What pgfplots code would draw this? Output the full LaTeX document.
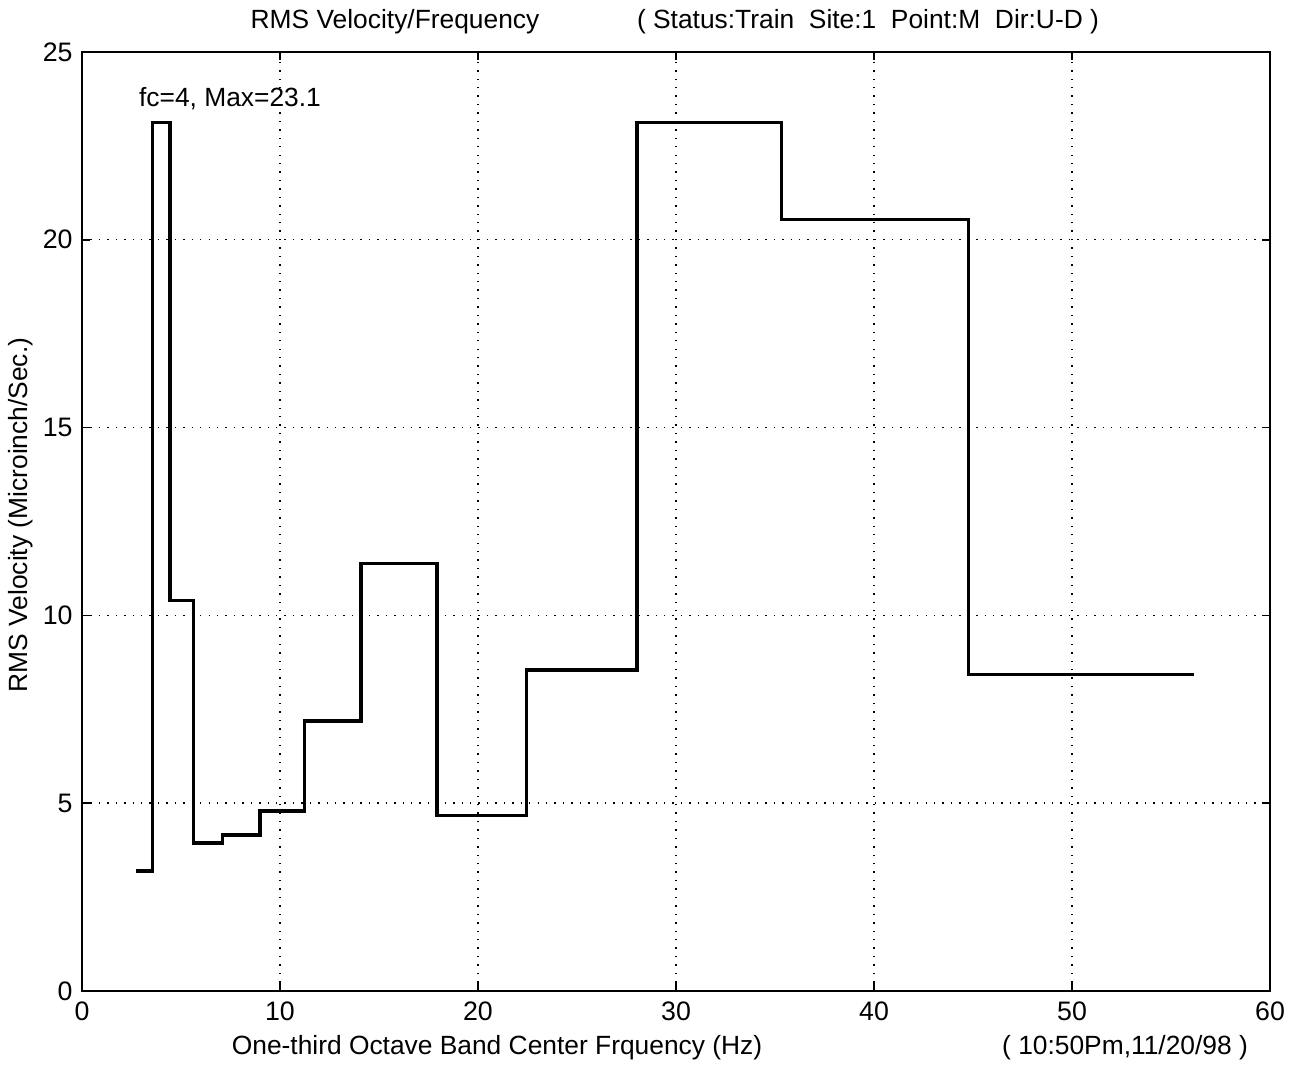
\documentclass[border=0pt]{standalone}
\usepackage{pgfplots}
\pgfplotsset{compat=1.18}
\usepackage{fontspec}
\setmainfont{Liberation Sans}
\begin{document}
\fontsize{7.5}{9}\selectfont
\begin{tikzpicture}
\begin{axis}[
  at={(0,0)}, anchor=south west,
  scale only axis, width=11.88cm, height=9.39cm,
  xmin=0, xmax=60, ymin=0, ymax=25,
  xtick={0,10,...,60}, ytick={0,5,...,25},
  grid=major,
  major grid style={black, line width=0.4pt, dotted},
  axis line style={black, line width=0.6pt},
  tick align=inside, major tick length=0.08cm,
  tick style={black, line width=0.5pt},
  /pgf/number format/assume math mode=true,
  ticklabel style={font=\fontsize{7.6}{9}\selectfont},
  xticklabel style={yshift=-0.01cm},
  clip=false,
]
\addplot[const plot, black, line width=1pt] table[x=x, y=y] {
x y
2.75 3.20
3.57 23.12
4.45 10.39
5.62 3.94
7.10 4.16
9.00 4.79
11.23 7.19
14.10 11.38
17.92 4.67
22.46 8.54
28.02 23.12
35.32 20.54
44.77 8.43
56.18 8.43
};
\node[anchor=west, inner sep=0pt] at (axis cs:2.85,23.75) {fc=4, Max=23.1};
\end{axis}
\node[inner sep=0pt] at (3.13,9.69) {RMS Velocity/Frequency};
\node[inner sep=0pt] at (7.86,9.69) {( Status:Train\ \ Site:1\ \ Point:M\ \ Dir:U-D )};
\node[inner sep=0pt] at (4.15,-0.57) {One-third Octave Band Center Frquency (Hz)};
\node[inner sep=0pt] at (10.43,-0.57) {( 10:50Pm,11/20/98 )};
\node[inner sep=0pt, rotate=90, font=\fontsize{7.5}{9}\selectfont] at (-0.61,4.76) {RMS Velocity (Microinch/Sec.)};
\pgfresetboundingbox
\path (-0.82,-0.78) rectangle (12.21,9.91);
\end{tikzpicture}
\end{document}
